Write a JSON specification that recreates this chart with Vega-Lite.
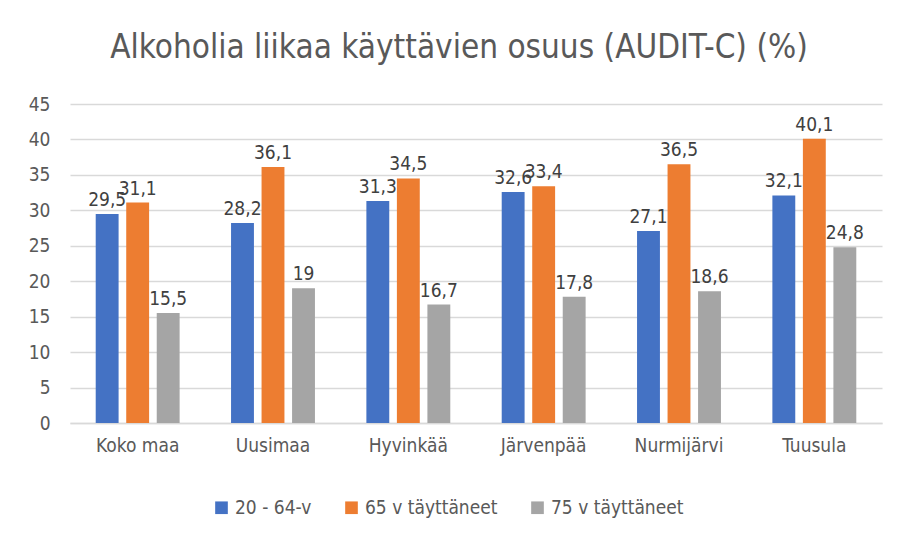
{
  "$schema": "https://vega.github.io/schema/vega-lite/v6.json",
  "width": 812,
  "height": 319,
  "autosize": {"type": "none"},
  "padding": {"left": 70, "top": 104, "right": 34, "bottom": 122},
  "background": "white",
  "title": {
    "text": "Alkoholia liikaa käyttävien osuus (AUDIT-C) (%)",
    "font": "DejaVu Sans Condensed, sans-serif",
    "fontSize": 33,
    "fontWeight": "normal",
    "color": "#595959",
    "anchor": "middle",
    "frame": "group",
    "offset": 30,
    "dx": -17
  },
  "data": {
    "values": [
      {"alue": "Koko maa", "ryhma": "20 - 64-v", "arvo": 29.5, "label": "29,5"},
      {"alue": "Koko maa", "ryhma": "65 v täyttäneet", "arvo": 31.1, "label": "31,1"},
      {"alue": "Koko maa", "ryhma": "75 v täyttäneet", "arvo": 15.5, "label": "15,5"},
      {"alue": "Uusimaa", "ryhma": "20 - 64-v", "arvo": 28.2, "label": "28,2"},
      {"alue": "Uusimaa", "ryhma": "65 v täyttäneet", "arvo": 36.1, "label": "36,1"},
      {"alue": "Uusimaa", "ryhma": "75 v täyttäneet", "arvo": 19, "label": "19"},
      {"alue": "Hyvinkää", "ryhma": "20 - 64-v", "arvo": 31.3, "label": "31,3"},
      {"alue": "Hyvinkää", "ryhma": "65 v täyttäneet", "arvo": 34.5, "label": "34,5"},
      {"alue": "Hyvinkää", "ryhma": "75 v täyttäneet", "arvo": 16.7, "label": "16,7"},
      {"alue": "Järvenpää", "ryhma": "20 - 64-v", "arvo": 32.6, "label": "32,6"},
      {"alue": "Järvenpää", "ryhma": "65 v täyttäneet", "arvo": 33.4, "label": "33,4"},
      {"alue": "Järvenpää", "ryhma": "75 v täyttäneet", "arvo": 17.8, "label": "17,8"},
      {"alue": "Nurmijärvi", "ryhma": "20 - 64-v", "arvo": 27.1, "label": "27,1"},
      {"alue": "Nurmijärvi", "ryhma": "65 v täyttäneet", "arvo": 36.5, "label": "36,5"},
      {"alue": "Nurmijärvi", "ryhma": "75 v täyttäneet", "arvo": 18.6, "label": "18,6"},
      {"alue": "Tuusula", "ryhma": "20 - 64-v", "arvo": 32.1, "label": "32,1"},
      {"alue": "Tuusula", "ryhma": "65 v täyttäneet", "arvo": 40.1, "label": "40,1"},
      {"alue": "Tuusula", "ryhma": "75 v täyttäneet", "arvo": 24.8, "label": "24,8"}
    ]
  },
  "encoding": {
    "x": {
      "field": "alue", "type": "nominal", "sort": null, "title": null,
      "scale": {"paddingInner": 0.38, "paddingOuter": 0.19},
      "axis": {"labelAngle": 0, "labelFontSize": 19, "labelColor": "#595959", "labelPadding": 13, "ticks": false, "domainColor": "#d9d9d9", "domainWidth": 1.5, "labelFont": "DejaVu Sans Condensed, sans-serif"}
    },
    "xOffset": {"field": "ryhma", "type": "nominal", "sort": null, "scale": {"paddingInner": 0.25}},
    "y": {
      "field": "arvo", "type": "quantitative", "title": null,
      "scale": {"domain": [0, 45], "nice": false},
      "axis": {"values": [0,5,10,15,20,25,30,35,40,45], "labelFontSize": 19, "labelColor": "#595959", "labelPadding": 20, "ticks": false, "domain": false, "gridColor": "#d9d9d9", "gridWidth": 1.5, "labelFont": "DejaVu Sans Condensed, sans-serif"}
    }
  },
  "layer": [
    {
      "mark": {"type": "bar"},
      "encoding": {
        "color": {
          "field": "ryhma", "type": "nominal", "sort": null,
          "scale": {"domain": ["20 - 64-v", "65 v täyttäneet", "75 v täyttäneet"], "range": ["#4472C4", "#ED7D31", "#A5A5A5"]},
          "legend": {"orient": "none", "legendX": 142, "legendY": 394, "direction": "horizontal", "title": null, "symbolType": "square", "symbolSize": 160, "symbolStrokeWidth": 0, "labelFontSize": 19, "labelColor": "#595959", "labelFont": "DejaVu Sans Condensed, sans-serif", "columnPadding": 30, "labelLimit": 300}
        }
      }
    },
    {
      "mark": {"type": "text", "dy": -14, "fontSize": 19, "color": "#404040", "font": "DejaVu Sans Condensed, sans-serif"},
      "encoding": {"text": {"field": "label"}}
    }
  ],
  "config": {
    "view": {"stroke": null}
  }
}
